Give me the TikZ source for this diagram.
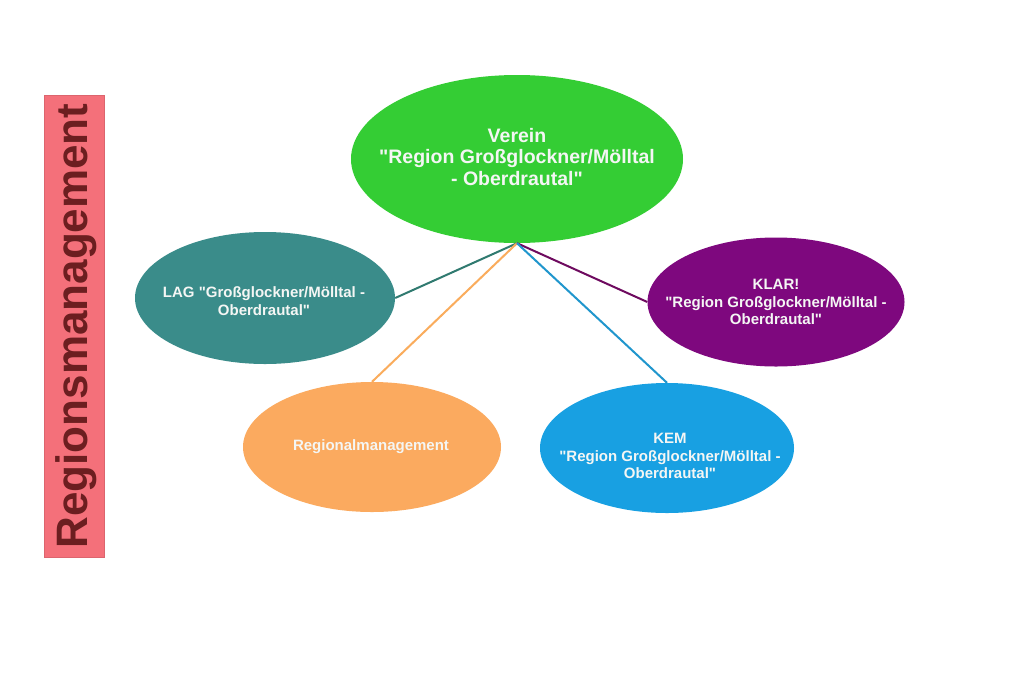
\documentclass[tikz,border=0pt]{standalone}
\usepackage{fontspec}
\setmainfont{Liberation Sans}
\usetikzlibrary{shapes.geometric}
\definecolor{cgreen}{RGB}{52,205,52}
\definecolor{cteal}{RGB}{58,140,138}
\definecolor{cpurple}{RGB}{126,8,126}
\definecolor{corange}{RGB}{251,170,95}
\definecolor{cblue}{RGB}{24,160,226}
\definecolor{cbox}{RGB}{244,112,122}
\definecolor{cboxtext}{RGB}{108,30,32}
\definecolor{ctext}{RGB}{244,246,244}
\definecolor{lteal}{RGB}{48,122,112}
\definecolor{lorange}{RGB}{250,172,92}
\definecolor{lpurple}{RGB}{110,10,95}
\definecolor{lblue}{RGB}{32,150,205}
\newcommand{\qq}{\textquotedbl}
\tikzset{
  bubble/.style={ellipse, inner sep=0pt},
  lbl/.style={align=center, text=ctext, font=\bfseries\fontsize{15}{17.5}\selectfont},
  biglbl/.style={align=center, text=ctext, font=\bfseries\fontsize{19.5}{21.5}\selectfont},
  conn/.style={line width=2pt}
}
\begin{document}
\begin{tikzpicture}[x=1pt,y=-1pt]
\useasboundingbox (0,0) rectangle (1024,683);
\fill[white] (0,0) rectangle (1024,683);
% side box
\node[draw=cbox!90!black, line width=0.6pt, fill=cbox, minimum width=60pt, minimum height=462pt, inner sep=0pt] (box) at (74,326) {};
\node[rotate=90, text=cboxtext, font=\bfseries\fontsize{44}{50}\selectfont] (boxtext) at (76,326) {Regionsmanagement};
% ellipses
\node[bubble, fill=cgreen, minimum width=332pt, minimum height=168pt] (verein) at (517,159) {};
\node[bubble, fill=cteal, minimum width=260pt, minimum height=132pt] (lag) at (265,298) {};
\node[bubble, fill=cpurple, minimum width=257pt, minimum height=129pt] (klar) at (776,302) {};
\node[bubble, fill=corange, minimum width=258pt, minimum height=130pt] (rm) at (372,447) {};
\node[bubble, fill=cblue, minimum width=254pt, minimum height=130pt] (kem) at (667,448) {};
% connectors
\draw[conn, lteal] (verein.south) -- (lag.east);
\draw[conn, lorange] (verein.south) -- (rm.north);
\draw[conn, lpurple] (verein.south) -- (klar.west);
\draw[conn, lblue] (verein.south) -- (kem.north);
% labels
\node[biglbl] (vereintext) at (517,157) {Verein\\\qq Region Großglockner/Mölltal\\- Oberdrautal\qq};
\node[lbl] (lagtext) at (264,301) {LAG \qq Großglockner/Mölltal -\\Oberdrautal\qq};
\node[lbl] (klartext) at (776,302) {KLAR!\\\qq Region Großglockner/Mölltal -\\Oberdrautal\qq};
\node[lbl] (rmtext) at (371,447) {Regionalmanagement};
\node[lbl] (kemtext) at (670,456) {KEM\\\qq Region Großglockner/Mölltal -\\Oberdrautal\qq};
\end{tikzpicture}
\end{document}
